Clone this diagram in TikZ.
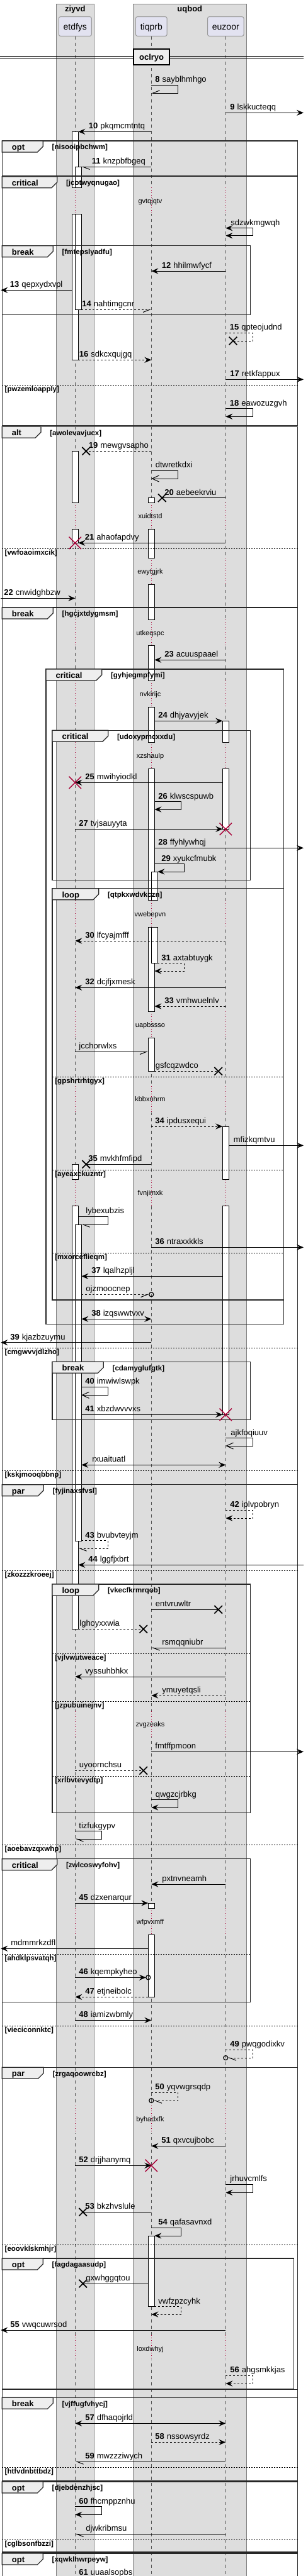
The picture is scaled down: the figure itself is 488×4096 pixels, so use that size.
\documentclass[tikz,border=0pt]{standalone}
\usepackage{fontspec}
\setmainfont{Liberation Sans}
\usetikzlibrary{arrows.meta,positioning}

\definecolor{boxfill}{HTML}{DDDDDD}
\definecolor{boxline}{HTML}{7F7F7F}
\definecolor{partfill}{HTML}{E2E2F0}
\definecolor{partline}{HTML}{9A9A9A}
\definecolor{lifecol}{HTML}{555555}
\definecolor{tabfill}{HTML}{EEEEEE}
\definecolor{killred}{HTML}{A80036}

\newcommand{\sqfont}[1]{\fontsize{#1pt}{#1pt}\selectfont}
\newcommand{\msgno}[1]{\textbf{#1}\hspace{2pt}}
% message label: name, x, line y, text
\newcommand{\seqlbl}[4]{\node[lbl] (#1) at (#2,#3-4.7) {#4};}
% frame: name, x0, top, x1, bottom, tab right, kind, guard
\newcommand{\seqframe}[8]{%
  \draw[frm] (#2,#3) rectangle (#4,#5);
  \draw[tabbox] (#2,#3) -- (#6,#3) -- (#6,#3+9) -- (#6-9,#3+18) -- (#2,#3+18) -- cycle;
  \node[tablbl] (#1) at (#2+15.2,#3+14.5) {#7};
  \node[grd] (#1-g) at (#6+14,#3+13.7) {[#8]};
}
% else line: name, x0, x1, y, guard
\newcommand{\seqelse}[5]{%
  \draw[elseline] (#2,#4) -- (#3,#4);
  \node[grd] (#1) at (#2+4,#4+10.3) {[#5]};
}
% delay: name, from, to, text y, text
\newcommand{\seqdelay}[5]{%
  \foreach \lane in {etdfys,tiqprb,euzoor}{
    \draw[boxfill, line width=1.5pt] (\lane |- 0,#2) -- (\lane |- 0,#3);
    \draw[dotline] (\lane |- 0,#2) -- (\lane |- 0,#3);
  }
  \node[dly] (#1) at (238.5,#4+3) {#5};
}

\begin{document}
\begin{tikzpicture}[x=0.5pt, y=-0.5pt,
  >={Stealth[length=5.5pt,width=4.6pt,inset=2pt]},
  grpbox/.style={draw=boxline, fill=boxfill, line width=0.5pt},
  grptitle/.style={anchor=base, inner sep=0, font=\sqfont{6.5}\bfseries},
  part/.style={draw=partline, fill=partfill, rounded corners=1.25pt, line width=0.5pt,
    minimum height=15.3pt, inner xsep=3.65pt, inner ysep=0, text height=7.1pt, text depth=1.5pt, font=\sqfont{7}},
  life/.style={draw=lifecol, line width=0.5pt, dash pattern=on 2.5pt off 2.5pt},
  dotline/.style={draw=killred, line width=0.5pt, dash pattern=on 0.5pt off 1.5pt},
  dly/.style={anchor=base, inner sep=0, font=\sqfont{5.5}},
  act/.style={draw=black, fill=white, line width=0.5pt},
  frm/.style={draw=black!85, line width=0.75pt},
  tabbox/.style={draw=black!85, fill=tabfill, line width=0.6pt},
  tablbl/.style={anchor=base west, inner sep=0, font=\sqfont{6.5}\bfseries},
  grd/.style={anchor=base west, inner sep=0, font=\sqfont{5.75}\bfseries},
  elseline/.style={draw=black, line width=0.5pt, dash pattern=on 1pt off 1pt},
  msg/.style={->, draw=black, line width=0.5pt},
  ret/.style={msg, dash pattern=on 1.5pt off 1.5pt},
  opn/.style={-{Straight Barb[length=5.5pt,width=5pt]}},
  hl/.style={-{Straight Barb[left,length=5.3pt,width=4.2pt]}},
  hr/.style={-{Straight Barb[right,length=5.3pt,width=4.2pt]}},
  lbl/.style={anchor=base west, inner sep=0, font=\sqfont{6.5}},
  xmark/.pic={\draw[solid,-,black,line width=0.85pt] (-6.3,-6.3) -- (6.3,6.3) (-6.3,6.3) -- (6.3,-6.3);},
  kill/.pic={\draw[solid,-,killred,line width=0.7pt] (-9.7,-9.7) -- (9.7,9.7) (-9.7,9.7) -- (9.7,-9.7);},
  endo/.pic={\draw[solid,-,black,line width=0.6pt] (0,0) circle[radius=1.75pt];}
]
  \useasboundingbox (0,0) rectangle (488,4096);
  \clip (0,0) rectangle (488,4096);

  % Boxes
  \draw[grpbox] (89.3,6) rectangle (149.3,4200);
  \draw[grpbox] (211.3,6) rectangle (391.3,4200);
  \node[grptitle] (ziyvd) at (119.3,18.3) {ziyvd};
  \node[grptitle] (uqbod) at (301.3,18.3) {uqbod};

  % Participants
  \node[part] (etdfys) at (119.3,42) {etdfys};
  \node[part] (tiqprb) at (240.3,42) {tiqprb};
  \node[part] (euzoor) at (358.3,42) {euzoor};
  \coordinate (eL) at ([xshift=-2.5pt]etdfys.center);
  \coordinate (eR) at ([xshift=2.5pt]etdfys.center);
  \coordinate (eRR) at ([xshift=5pt]etdfys.center);
  \coordinate (tL) at ([xshift=-2.5pt]tiqprb.center);
  \coordinate (tR) at ([xshift=2.5pt]tiqprb.center);
  \coordinate (tRR) at ([xshift=5pt]tiqprb.center);
  \coordinate (uL) at ([xshift=-2.5pt]euzoor.center);
  \coordinate (uR) at ([xshift=2.5pt]euzoor.center);
  \coordinate (lft) at (1.3,0);
  \coordinate (rgt) at (482,0);

  % Lifelines
  \foreach \lane in {etdfys,tiqprb,euzoor}
    \draw[life] (\lane.south) -- (\lane |- 0,4200);

  % Divider
  \draw[line width=0.5pt] (0,89.3) -- (482,89.3) (0,92.7) -- (482,92.7);
  \node[draw=black, line width=0.9pt, fill=tabfill, minimum width=28.65pt, minimum height=12.65pt,
    inner sep=0, text height=6.4pt, text depth=1.4pt, font=\sqfont{6.5}\bfseries] (oclryo) at (240.65,90.65) {oclryo};

  % Delays
  \seqdelay{d1}{298.3}{340}{320.7}{gvtqjqtv}
  \seqdelay{d2}{799.3}{841.3}{821.3}{xuidtstd}
  \seqdelay{d3}{887.3}{929}{909.3}{ewytgjrk}
  \seqdelay{d4}{985.3}{1026.7}{1007.3}{utkeqspc}
  \seqdelay{d5}{1082.3}{1124}{1104}{nvkirijc}
  \seqdelay{d6}{1180.3}{1222}{1202}{xzshaulp}
  \seqdelay{d7}{1431.7}{1474}{1454.3}{vwebepvn}
  \seqdelay{d8}{1608.3}{1650}{1630}{uapbssso}
  \seqdelay{d9}{1727}{1769}{1748.3}{kbbxnhrm}
  \seqdelay{d10}{1875.7}{1917}{1897.3}{fvnjimxk}
  \seqdelay{d11}{2721}{2762}{2742.3}{zvgzeaks}
  \seqdelay{d12}{3034.3}{3076}{3056}{wfpvxmff}
  \seqdelay{d13}{3348}{3392}{3370}{byhadxfk}
  \seqdelay{d14}{3713}{3752}{3735}{loxdwhyj}

  % Activations
  \foreach \a/\b in {209.3/298.3, 340/572.3, 717.3/799.3, 841.3/863.3, 1851.3/1875.7, 1917/2590.3}
    \draw[act] (eL |- 0,\a) rectangle (eR |- 0,\b);
  \foreach \a/\b in {265.3/298.3, 340/492.3, 1947/2450.3}
    \draw[act] (etdfys |- 0,\a) rectangle (eRR |- 0,\b);
  \foreach \a/\b in {791.7/799.3, 841.3/887.3, 929/985.3, 1026.7/1082.3, 1124/1180.3, 1222/1431.7,
      1474/1608.3, 1650/1703.3, 3026/3034.3, 3076/3175.3, 3555/3667.7}
    \draw[act] (tL |- 0,\a) rectangle (tR |- 0,\b);
  \foreach \a/\b in {1386/1431.7, 1474/1531.7}
    \draw[act] (tiqprb |- 0,\a) rectangle (tRR |- 0,\b);
  \foreach \a/\b in {1146.3/1180.3, 1222/1318.3, 1791/1875.7, 1917/2249.3}
    \draw[act] (uL |- 0,\a) rectangle (uR |- 0,\b);

  % Frames
  \seqframe{f1}{3.3}{224}{472.7}{280}{68.3}{opt}{nisooipbchwm}
  \seqframe{f2}{3.3}{280.7}{472.7}{676.7}{90.7}{critical}{jcotwyqnugao}
  \seqframe{f3}{3.3}{390.7}{397.7}{500.3}{84.3}{break}{fmtepslyadfu}
  \seqelse{s1}{3.3}{472.7}{612}{pwzemloapply}
  \seqframe{f4}{3.3}{678.3}{472.7}{4200}{65}{alt}{awolevavjucx}
  \seqelse{s2}{3.3}{472.7}{872.3}{vwfoaoimxcik}
  \seqframe{f5}{3.3}{966}{472.7}{4200}{84.3}{break}{hgcjxtdygmsm}
  \seqframe{f6}{73}{1064}{450.7}{2105.3}{161.7}{critical}{gyhjegmpfymi}
  \seqframe{f7}{83}{1161.3}{397.7}{1399.3}{171.7}{critical}{udoxypmcxxdu}
  \seqframe{f8}{83}{1412.7}{450.7}{2067}{156.7}{loop}{qtpkxwdvkczn}
  \seqelse{s3}{83}{450.7}{1712.3}{gpshrtrhtgyx}
  \seqelse{s4}{83}{450.7}{1860.3}{ayeaxckuzntr}
  \seqelse{s5}{83}{450.7}{1992.3}{mxorceflieqm}
  \seqelse{s6}{3.3}{472.7}{2143.3}{cmgwvvjdlzho}
  \seqframe{f9}{83}{2165.3}{397.7}{2257.3}{164.3}{break}{cdamyglufgtk}
  \seqelse{s7}{3.3}{472.7}{2338.3}{kskjmooqbbnp}
  \seqframe{f10}{3.3}{2360.7}{472.7}{3287.3}{69.3}{par}{fyjinaxsfvsl}
  \seqelse{s8}{3.3}{472.7}{2497.3}{zkozzzkroeej}
  \seqframe{f11}{83}{2519}{397.7}{2882.3}{156.7}{loop}{vkecfkrmrqob}
  \seqelse{s9}{83}{397.7}{2629.3}{vjlvwutweace}
  \seqelse{s10}{83}{397.7}{2705}{jzpubuinejnv}
  \seqelse{s11}{83}{397.7}{2824.3}{xrlbvtevydtp}
  \seqelse{s12}{3.3}{472.7}{2933}{aoebavzqxwhp}
  \seqframe{f12}{3.3}{2955.7}{397.7}{3183.3}{90.7}{critical}{zwlcoswyfohv}
  \seqelse{s13}{3.3}{397.7}{3107.3}{ahdklpsvatqh}
  \seqelse{s14}{3.3}{472.7}{3221.3}{vieciconnktc}
  \seqframe{f13}{3.3}{3287.3}{472.7}{3799.5}{69.3}{par}{zrgaqoowrcbz}
  \seqelse{s15}{3.3}{472.7}{3569.3}{eoovklskmhjr}
  \seqframe{f14}{3.3}{3591}{466.7}{3798.3}{68.3}{opt}{fagdagaasudp}
  \seqframe{f15}{3.3}{3812.3}{472.7}{3944.3}{84.3}{break}{vjffugfvhycj}
  \seqelse{s16}{3.3}{472.7}{3923.3}{htfvdnbttbdz}
  \seqframe{f16}{3.3}{3946}{472.7}{4058}{68.3}{opt}{djebdenzhjsc}
  \seqelse{s17}{3.3}{472.7}{4038.3}{cglbsonfbzzi}
  \seqframe{f17}{3.3}{4060}{472.7}{4200}{68.3}{opt}{xqwklhwrpeyw}

  % Messages
  \draw[msg,hr] (tiqprb |- 0,135.3) -- ++(42.4,0) |- (tiqprb |- 0,148);
  \seqlbl{m8}{246}{135.3}{\msgno{8}sayblhmhgo}
  \draw[msg] (euzoor |- 0,179.3) -- (rgt |- 0,179.3);
  \seqlbl{m9}{365}{179.3}{\msgno{9}lskkucteqq}
  \draw[msg] (tiqprb |- 0,209.3) -- (eR |- 0,209.3);
  \seqlbl{m10}{140.5}{209.3}{\msgno{10}pkqmcmtntq}
  \draw[msg,hl] (tiqprb |- 0,265.3) -- (eRR |- 0,265.3);
  \seqlbl{m11}{145.5}{265.3}{\msgno{11}knzpbfbgeq}
  \draw[msg,<->] (euzoor |- 0,362.7) -- ++(43.4,0) |- (euzoor |- 0,374.7);
  \seqlbl{m11b}{366}{362.7}{sdzwkmgwqh}
  \draw[msg] (euzoor |- 0,431) -- (tiqprb |- 0,431);
  \seqlbl{m12}{256.5}{431}{\msgno{12}hhilmwfycf}
  \draw[msg] (eL |- 0,461.3) -- (lft |- 0,461.3);
  \seqlbl{m13}{15.5}{461.3}{\msgno{13}qepxydxvpl}
  \draw[ret,hr] (eRR |- 0,492.3) -- (tiqprb |- 0,492.3);
  \seqlbl{m14}{130}{492.3}{\msgno{14}nahtimgcnr}
  \draw[ret,-] (euzoor |- 0,529.3) -- ++(43.4,0) |- (370,542) pic{xmark};
  \seqlbl{m15}{364.5}{529.3}{\msgno{15}qpteojudnd}
  \draw[ret] (eR |- 0,572.3) -- (tiqprb |- 0,572.3);
  \seqlbl{m16}{125.5}{572.3}{\msgno{16}sdkcxqujgq}
  \draw[msg] (euzoor |- 0,603.3) -- (rgt |- 0,603.3);
  \seqlbl{m17}{365}{603.3}{\msgno{17}retkfappux}
  \draw[msg] (euzoor |- 0,649.7) -- ++(43.4,0) |- (euzoor |- 0,662.3);
  \seqlbl{m18}{364.5}{649.7}{\msgno{18}eawozuzgvh}
  \draw[ret,-] (tiqprb |- 0,717.3) -- (136.7,717.3) pic{xmark};
  \seqlbl{m19}{140.5}{717.3}{\msgno{19}mewgvsapho}
  \draw[msg,opn] (tiqprb |- 0,748.3) -- ++(42.4,0) |- (tiqprb |- 0,761);
  \seqlbl{m19b}{246.5}{748.3}{dtwretkdxi}
  \draw[msg,-] (euzoor |- 0,791.7) -- (257.3,791.7) pic{xmark};
  \seqlbl{m20}{261}{791.7}{\msgno{20}aebeekrviu}
  \draw[msg] (euzoor |- 0,863.3) -- (eR |- 0,863.3);
  \pic at (etdfys |- 0,863.3) {kill};
  \seqlbl{m21}{134.5}{863.3}{\msgno{21}ahaofapdvy}
  \draw[msg] (lft |- 0,951.3) -- (etdfys |- 0,951.3);
  \seqlbl{m22}{6}{951.3}{\msgno{22}cnwidghbzw}
  \draw[msg] (euzoor |- 0,1049.3) -- (tR |- 0,1049.3);
  \seqlbl{m23}{261}{1049.3}{\msgno{23}acuuspaael}
  \draw[msg] (tR |- 0,1146.3) -- (uL |- 0,1146.3);
  \seqlbl{m24}{251}{1146.3}{\msgno{24}dhjyavyjek}
  \draw[msg] (uL |- 0,1244.3) -- (etdfys |- 0,1244.3);
  \pic at (etdfys |- 0,1244.3) {kill};
  \seqlbl{m25}{135}{1244.3}{\msgno{25}mwihyiodkl}
  \draw[msg] (tR |- 0,1274.7) -- ++(42,0) |- (tR |- 0,1287);
  \seqlbl{m26}{251}{1274.7}{\msgno{26}klwscspuwb}
  \draw[msg] (etdfys |- 0,1318.3) -- (uL |- 0,1318.3);
  \pic at (euzoor |- 0,1318.3) {kill};
  \seqlbl{m27}{125}{1318.3}{\msgno{27}tvjsauyyta}
  \draw[msg] (tR |- 0,1348.3) -- (rgt |- 0,1348.3);
  \seqlbl{m28}{251}{1348.3}{\msgno{28}ffyhlywhqj}
  \draw[msg] (tR |- 0,1373.7) -- ++(47,0) |- (tRR |- 0,1386);
  \seqlbl{m29}{256}{1373.7}{\msgno{29}xyukcfmubk}
  \draw[ret] (euzoor |- 0,1496) -- (etdfys |- 0,1496);
  \seqlbl{m30}{135}{1496}{\msgno{30}lfcyajmfff}
  \draw[ret] (tRR |- 0,1531.7) -- ++(42,0) |- (tR |- 0,1544);
  \seqlbl{m31}{256}{1531.7}{\msgno{31}axtabtuygk}
  \draw[msg] (euzoor |- 0,1570.3) -- (etdfys |- 0,1570.3);
  \seqlbl{m32}{135}{1570.3}{\msgno{32}dcjfjxmesk}
  \draw[ret] (euzoor |- 0,1600) -- (tR |- 0,1600);
  \seqlbl{m33}{261}{1600}{\msgno{33}vmhwuelnlv}
  \draw[msg,hr] (etdfys |- 0,1672.3) -- (tL |- 0,1672.3);
  \seqlbl{m33b}{125}{1672.3}{jcchorwlxs}
  \draw[ret,-] (tR |- 0,1703.3) -- (346.7,1703.3) pic{xmark};
  \seqlbl{m33c}{246.5}{1703.3}{gsfcqzwdco}
  \draw[ret] (tiqprb |- 0,1791) -- (uL |- 0,1791);
  \seqlbl{m34}{246}{1791}{\msgno{34}ipdusxequi}
  \draw[msg] (uR |- 0,1821.3) -- (rgt |- 0,1821.3);
  \seqlbl{m34b}{370.5}{1821.3}{mfizkqmtvu}
  \draw[msg,-] (tiqprb |- 0,1851.3) -- (136.7,1851.3) pic{xmark};
  \seqlbl{m35}{140}{1851.3}{\msgno{35}mvkhfmfipd}
  \draw[msg,hl] (eR |- 0,1934.3) -- ++(47,0) |- (eRR |- 0,1947);
  \seqlbl{m35b}{136}{1934.3}{lybexubzis}
  \draw[msg] (tiqprb |- 0,1983.3) -- (rgt |- 0,1983.3);
  \seqlbl{m36}{246}{1983.3}{\msgno{36}ntraxxkkls}
  \draw[msg] (uL |- 0,2029.3) -- (eRR |- 0,2029.3);
  \seqlbl{m37}{145}{2029.3}{\msgno{37}lqalhzpljl}
  \draw[ret,hr,shorten >=1.75pt] (eRR |- 0,2058.3) -- (tiqprb |- 0,2058.3) pic{endo};
  \seqlbl{m37b}{136}{2058.3}{ojzmoocnep}
  \draw[msg,<->] (eRR |- 0,2097.3) -- (tiqprb |- 0,2097.3);
  \seqlbl{m38}{145}{2097.3}{\msgno{38}izqswwtvxv}
  \draw[msg] (tiqprb |- 0,2134.7) -- (lft |- 0,2134.7);
  \seqlbl{m39}{16}{2134.7}{\msgno{39}kjazbzuymu}
  \draw[msg,opn] (eRR |- 0,2205.3) -- ++(42,0) |- (eRR |- 0,2218.3);
  \seqlbl{m40}{135}{2205.3}{\msgno{40}imwiwlswpk}
  \draw[msg] (eRR |- 0,2249.3) -- (uL |- 0,2249.3);
  \pic at (euzoor |- 0,2249.3) {kill};
  \seqlbl{m41}{135}{2249.3}{\msgno{41}xbzdwvvvxs}
  \draw[msg,opn] (euzoor |- 0,2286.7) -- ++(43.4,0) |- (euzoor |- 0,2299);
  \seqlbl{m41b}{366}{2286.7}{ajkfoqiuuv}
  \draw[msg,<->] (eRR |- 0,2329.3) -- (euzoor |- 0,2329.3);
  \seqlbl{m41c}{146}{2329.3}{rxuaituatl}
  \draw[ret] (euzoor |- 0,2401.3) -- ++(43.4,0) |- (euzoor |- 0,2414);
  \seqlbl{m42}{365}{2401.3}{\msgno{42}iplvpobryn}
  \draw[ret,hl] (eRR |- 0,2449.7) -- ++(42,0) |- (eR |- 0,2462);
  \seqlbl{m43}{135}{2449.7}{\msgno{43}bvubvteyjm}
  \draw[msg] (rgt |- 0,2488.3) -- (eR |- 0,2488.3);
  \seqlbl{m44}{140}{2488.3}{\msgno{44}lggfjxbrt}
  \draw[msg,-] (tiqprb |- 0,2559.3) -- (346.7,2559.3) pic{xmark};
  \seqlbl{m44b}{246.5}{2559.3}{entvruwltr}
  \draw[ret,-] (eR |- 0,2590.3) -- (227.7,2590.3) pic{xmark};
  \seqlbl{m44c}{126}{2590.3}{lghoyxxwia}
  \draw[msg,hl] (euzoor |- 0,2620) -- (tiqprb |- 0,2620);
  \seqlbl{m44d}{257}{2620}{rsmqqniubr}
  \draw[msg] (euzoor |- 0,2666) -- (etdfys |- 0,2666);
  \seqlbl{m44e}{135}{2666}{vyssuhbhkx}
  \draw[ret] (euzoor |- 0,2696) -- (tiqprb |- 0,2696);
  \seqlbl{m44f}{257}{2696}{ymuyetqsli}
  \draw[msg] (tiqprb |- 0,2785.3) -- (rgt |- 0,2785.3);
  \seqlbl{m44g}{246}{2785.3}{fmtffpmoon}
  \draw[ret,-] (etdfys |- 0,2815.3) -- (227.7,2815.3) pic{xmark};
  \seqlbl{m44h}{125.5}{2815.3}{uyoornchsu}
  \draw[msg] (tiqprb |- 0,2861.7) -- ++(42.4,0) |- (tiqprb |- 0,2874);
  \seqlbl{m44i}{246.5}{2861.7}{qwgzcjrbkg}
  \draw[msg,hl] (etdfys |- 0,2911.7) -- ++(42.4,0) |- (etdfys |- 0,2924);
  \seqlbl{m44j}{125}{2911.7}{tizfukgypv}
  \draw[msg] (euzoor |- 0,2996) -- (tiqprb |- 0,2996);
  \seqlbl{m44k}{257}{2996}{pxtnvneamh}
  \draw[msg] (etdfys |- 0,3026) -- (tL |- 0,3026);
  \seqlbl{m45}{125}{3026}{\msgno{45}dzxenarqur}
  \draw[msg] (tL |- 0,3098.3) -- (lft |- 0,3098.3);
  \seqlbl{m45b}{17}{3098.3}{mdmmrkzdfl}
  \draw[msg,shorten >=1.75pt] (etdfys |- 0,3144.3) -- (tL |- 0,3144.3) pic{endo};
  \seqlbl{m46}{125}{3144.3}{\msgno{46}kqempkyheo}
  \draw[ret] (tL |- 0,3175.3) -- (etdfys |- 0,3175.3);
  \seqlbl{m47}{135}{3175.3}{\msgno{47}etjneibolc}
  \draw[msg] (etdfys |- 0,3212.3) -- (tiqprb |- 0,3212.3);
  \seqlbl{m48}{125}{3212.3}{\msgno{48}iamizwbmly}
  \draw[ret,hl,shorten >=1.75pt] (euzoor |- 0,3259.3) -- ++(43.4,0) |- (euzoor |- 0,3272) pic{endo};
  \seqlbl{m49}{365}{3259.3}{\msgno{49}pwqgodixkv}
  \draw[ret,hl,shorten >=1.75pt] (tiqprb |- 0,3327.3) -- ++(42.4,0) |- (tiqprb |- 0,3340) pic{endo};
  \seqlbl{m50}{246}{3327.3}{\msgno{50}yqvwgrsqdp}
  \draw[msg] (euzoor |- 0,3412.3) -- (tiqprb |- 0,3412.3);
  \seqlbl{m51}{256}{3412.3}{\msgno{51}qxvcujbobc}
  \draw[msg] (etdfys |- 0,3443.3) -- (tiqprb |- 0,3443.3);
  \pic at (tiqprb |- 0,3443.3) {kill};
  \seqlbl{m52}{125}{3443.3}{\msgno{52}drjjhanymq}
  \draw[msg] (euzoor |- 0,3473.3) -- ++(43.4,0) |- (euzoor |- 0,3486.3);
  \seqlbl{m52b}{365}{3473.3}{jrhuvcmlfs}
  \draw[msg,-] (tiqprb |- 0,3517.3) -- (131.7,3517.3) pic{xmark};
  \seqlbl{m53}{135}{3517.3}{\msgno{53}bkzhvslule}
  \draw[msg] (tiqprb |- 0,3542.3) -- ++(47,0) |- (tR |- 0,3555);
  \seqlbl{m54}{251}{3542.3}{\msgno{54}qafasavnxd}
  \draw[msg,-] (tL |- 0,3631) -- (131.7,3631) pic{xmark};
  \seqlbl{m54b}{136}{3631}{gxwhggqtou}
  \draw[ret] (tR |- 0,3667.7) -- ++(42,0) |- (tiqprb |- 0,3680);
  \seqlbl{m54c}{251}{3667.7}{vwfzpzcyhk}
  \draw[msg] (euzoor |- 0,3705) -- (lft |- 0,3705);
  \seqlbl{m55}{16}{3705}{\msgno{55}vwqcuwrsod}
  \draw[ret] (euzoor |- 0,3777.3) -- ++(43.4,0) |- (euzoor |- 0,3790);
  \seqlbl{m56}{365}{3777.3}{\msgno{56}ahgsmkkjas}
  \draw[msg,<->] (etdfys |- 0,3853.3) -- (euzoor |- 0,3853.3);
  \seqlbl{m57}{135}{3853.3}{\msgno{57}dfhaqojrld}
  \draw[ret] (tiqprb |- 0,3883.3) -- (euzoor |- 0,3883.3);
  \seqlbl{m58}{246}{3883.3}{\msgno{58}nssowsyrdz}
  \draw[msg,hl] (euzoor |- 0,3914) -- (etdfys |- 0,3914);
  \seqlbl{m59}{135}{3914}{\msgno{59}mwzzziwych}
  \draw[msg] (etdfys |- 0,3985.7) -- ++(42.4,0) |- (etdfys |- 0,3998.3);
  \seqlbl{m60}{125}{3985.7}{\msgno{60}fhcmppznhu}
  \draw[msg,hl] (euzoor |- 0,4029.3) -- (etdfys |- 0,4029.3);
  \seqlbl{m60b}{136}{4029.3}{djwkribmsu}
  \seqlbl{m61}{125}{4099.5}{\msgno{61}uuaalsopbs}

\end{tikzpicture}
\end{document}
